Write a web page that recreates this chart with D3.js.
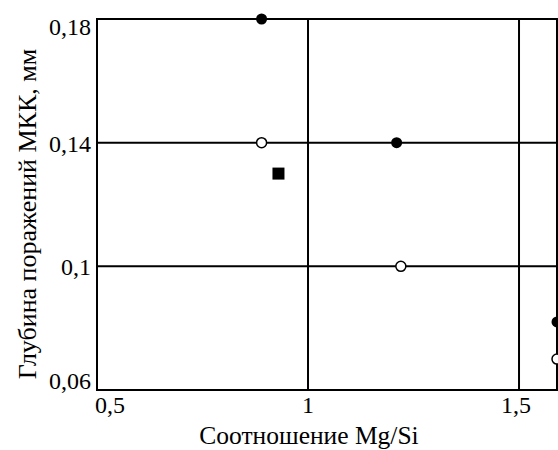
<!DOCTYPE html>
<html>
<head>
<meta charset="utf-8">
<script src="https://cdn.jsdelivr.net/npm/d3@7"></script>
<style>
  body { margin: 0; background: #fff; }
  text { font-family: "Liberation Serif", "Times New Roman", serif; fill: #000; }
</style>
</head>
<body>
<script>
// filled circles
const filledX = [0.89, 1.21, 1.59]
const filledY = [0.18, 0.14, 0.082]
// open circles
const openX = [0.89, 1.22, 1.59]
const openY = [0.14, 0.10, 0.07]
// square
const squareX = [0.93]
const squareY = [0.13]

const xTicks = [0.5, 1, 1.5]
const yTicks = [0.06, 0.1, 0.14, 0.18]
const xLabels = ["0,5", "1", "1,5"]
const yLabels = ["0,06", "0,1", "0,14", "0,18"]

const m = { width: 558, height: 450, left: 97, right: 557, top: 19, bottom: 390 }

const svg = d3.select("body").append("svg")
    .attr("width", m.width)
    .attr("height", m.height)

const x = d3.scaleLinear().domain([0.5, 1.59]).range([m.left, m.right])
const y = d3.scaleLinear().domain([0.06, 0.18]).range([m.bottom, m.top])

const g = svg.append("g")

// grid lines
g.selectAll(".hgrid")
  .data([0.1, 0.14])
  .enter().append("line")
    .attr("x1", m.left).attr("x2", m.right)
    .attr("y1", d => y(d)).attr("y2", d => y(d))
    .attr("stroke", "#000").attr("stroke-width", 2)

g.selectAll(".vgrid")
  .data([1, 1.5])
  .enter().append("line")
    .attr("x1", d => x(d)).attr("x2", d => x(d))
    .attr("y1", m.top).attr("y2", m.bottom)
    .attr("stroke", "#000").attr("stroke-width", 2)

// frame
g.append("rect")
  .attr("x", m.left).attr("y", m.top)
  .attr("width", m.right - m.left).attr("height", m.bottom - m.top)
  .attr("fill", "none").attr("stroke", "#000").attr("stroke-width", 2)

// y tick labels (baseline offsets from the grid line)
const yShift = { 0.06: -1, 0.1: 9, 0.14: 9, 0.18: 16 }
g.selectAll(".ylab")
  .data(yTicks)
  .enter().append("text")
    .attr("x", m.left - 6)
    .attr("y", d => y(d) + yShift[d])
    .attr("text-anchor", "end")
    .style("font-size", "24px")
    .text((d, i) => yLabels[i])

// x tick labels
g.selectAll(".xlab")
  .data(xTicks)
  .enter().append("text")
    .attr("x", (d, i) => x(d) + (i == 0 ? -2 : i == 2 ? -3 : 0))
    .attr("y", m.bottom + 23)
    .attr("text-anchor", (d, i) => i == 0 ? "start" : "middle")
    .style("font-size", "24px")
    .text((d, i) => xLabels[i])

// axis titles
svg.append("text")
  .attr("x", 309).attr("y", 444)
  .attr("text-anchor", "middle")
  .style("font-size", "25.5px")
  .text("Соотношение Mg/Si")

svg.append("text")
  .attr("transform", "translate(36," + 214 + ") rotate(-90)")
  .attr("text-anchor", "middle")
  .style("font-size", "26px")
  .text("Глубина поражений МКК, мм")

// markers
g.selectAll(".filled")
  .data(filledX)
  .enter().append("circle")
    .attr("cx", d => x(d))
    .attr("cy", (d, i) => y(filledY[i]))
    .attr("r", 5.5)
    .attr("fill", "#000")

g.selectAll(".open")
  .data(openX)
  .enter().append("circle")
    .attr("cx", d => x(d))
    .attr("cy", (d, i) => y(openY[i]))
    .attr("r", 5)
    .attr("fill", "#fff")
    .attr("stroke", "#000")
    .attr("stroke-width", 1.5)

g.selectAll(".square")
  .data(squareX)
  .enter().append("rect")
    .attr("x", d => x(d) - 6)
    .attr("y", (d, i) => y(squareY[i]) - 6)
    .attr("width", 12).attr("height", 12)
    .attr("fill", "#000")
</script>
</body>
</html>
